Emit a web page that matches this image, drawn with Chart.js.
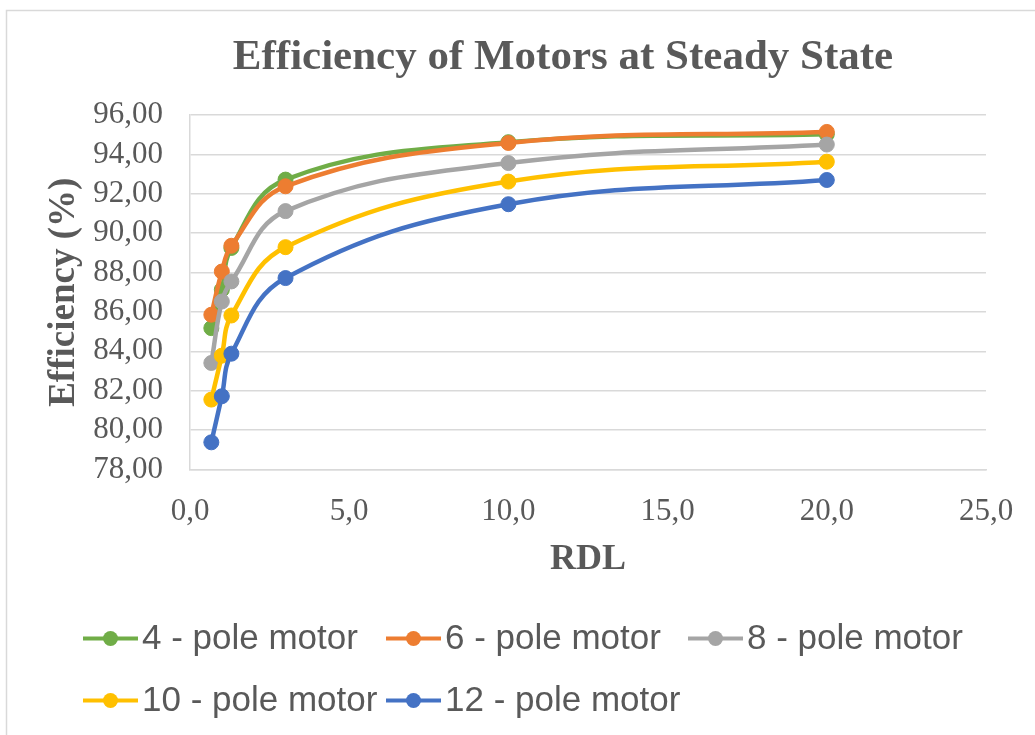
<!DOCTYPE html>
<html>
<head>
<meta charset="utf-8">
<script src="https://cdn.jsdelivr.net/npm/chart.js@4.4.1/dist/chart.umd.min.js"></script>
<style>
  html, body { margin: 0; padding: 0; background: #ffffff; }
  canvas { display: block; }
</style>
</head>
<body>
<canvas id="chart" width="1035" height="735"></canvas>
<script>
// RDL values (x) shared by every motor series
const rdl = [0.67, 1.0, 1.3, 3, 10, 20];

// Steady-state efficiency (%) per motor
const pole4  = [85.18, 87.13, 89.25, 92.72, 94.62, 95.02];
const pole6  = [85.86, 88.05, 89.36, 92.38, 94.58, 95.14];
const pole8  = [83.41, 86.53, 87.55, 91.12, 93.56, 94.50];
const pole10 = [81.55, 83.78, 85.82, 89.29, 92.62, 93.63];
const pole12 = [79.38, 81.72, 83.88, 87.72, 91.47, 92.70];

const seriesNames  = ['4 - pole motor', '6 - pole motor', '8 - pole motor', '10 - pole motor', '12 - pole motor'];
const seriesValues = [pole4, pole6, pole8, pole10, pole12];
const seriesColors = ['#70AD47', '#ED7D31', '#A5A5A5', '#FFC000', '#4472C4'];

// Axis ticks
const xTickValues = [0, 5, 10, 15, 20, 25];
const yTickValues = [78, 80, 82, 84, 86, 88, 90, 92, 94, 96];

const chartTitle = 'Efficiency of Motors at Steady State';

const TEXT = '#595959';
const GRID = '#d9d9d9';
const SERIF = '"Liberation Serif", "Times New Roman", serif';
const SANS = '"Liberation Sans", Arial, sans-serif';

const commaFixed = (v, d) => Number(v).toFixed(d).replace('.', ',');

const datasets = seriesNames.map((name, i) => ({
  label: name,
  data: rdl.map((x, k) => ({ x: x, y: seriesValues[i][k] })),
  borderColor: seriesColors[i],
  backgroundColor: seriesColors[i],
  pointBackgroundColor: seriesColors[i],
  pointBorderColor: seriesColors[i],
  borderWidth: 4.5,
  pointRadius: 7.5,
  pointBorderWidth: 1,
  tension: 0.4,
  fill: false,
  clip: false,
  order: seriesNames.length - i
}));

// White page with the light frame around the chart
const frame = {
  id: 'frame',
  beforeDraw(chart) {
    const ctx = chart.ctx;
    ctx.save();
    ctx.fillStyle = '#ffffff';
    ctx.fillRect(0, 0, chart.width, chart.height);
    ctx.strokeStyle = GRID;
    ctx.lineWidth = 1.5;
    ctx.strokeRect(6.5, 10.5, chart.width + 20, chart.height + 20);
    ctx.restore();
  }
};

// Chart heading, centred over the plot block
const heading = {
  id: 'heading',
  afterDraw(chart) {
    const ctx = chart.ctx;
    ctx.save();
    ctx.font = 'bold 43px ' + SERIF;
    ctx.fillStyle = TEXT;
    ctx.textAlign = 'center';
    ctx.textBaseline = 'middle';
    ctx.fillText(chartTitle, 563, 58);
    ctx.restore();
  }
};

// Legend laid out on a fixed three-column grid
const gridLegend = {
  id: 'gridLegend',
  afterDraw(chart) {
    const ctx = chart.ctx;
    const cols = [83, 386, 688];
    const rows = [638.5, 700.5];
    ctx.save();
    ctx.font = '35px ' + SANS;
    ctx.textBaseline = 'middle';
    ctx.textAlign = 'left';
    chart.data.datasets.forEach((ds, i) => {
      const x = cols[i % 3];
      const y = rows[Math.floor(i / 3)];
      ctx.strokeStyle = ds.borderColor;
      ctx.lineWidth = 4;
      ctx.beginPath();
      ctx.moveTo(x, y);
      ctx.lineTo(x + 55, y);
      ctx.stroke();
      ctx.fillStyle = ds.borderColor;
      ctx.beginPath();
      ctx.arc(x + 27.5, y, 7.5, 0, Math.PI * 2);
      ctx.fill();
      ctx.fillStyle = TEXT;
      ctx.fillText(ds.label, x + 59, y + 1);
    });
    ctx.restore();
  }
};

new Chart(document.getElementById('chart'), {
  type: 'line',
  data: { datasets: datasets },
  plugins: [frame, heading, gridLegend],
  options: {
    responsive: false,
    animation: false,
    devicePixelRatio: 1,
    layout: { padding: { top: 115, left: 0, right: 49, bottom: 135 } },
    plugins: {
      legend: { display: false },
      tooltip: { enabled: false },
      title: { display: false }
    },
    scales: {
      x: {
        type: 'linear',
        min: 0,
        max: 25,
        afterBuildTicks(scale) { scale.ticks = xTickValues.map(v => ({ value: v })); },
        afterFit(scale) { scale.height = 130.5; },
        grid: { display: false },
        border: { display: true, color: GRID, width: 1.5 },
        ticks: {
          color: TEXT,
          font: { family: SERIF, size: 31 },
          padding: 16,
          maxRotation: 0,
          autoSkip: false,
          callback: v => commaFixed(v, 1)
        },
        title: {
          display: true,
          text: 'RDL',
          color: TEXT,
          font: { family: SERIF, size: 36, weight: 'bold', lineHeight: 1.2 },
          padding: { top: 0, bottom: 19 }
        }
      },
      y: {
        type: 'linear',
        min: 78,
        max: 96,
        afterBuildTicks(scale) { scale.ticks = yTickValues.map(v => ({ value: v })); },
        afterFit(scale) { scale.width = 190; },
        grid: { color: GRID, lineWidth: 1.5, drawTicks: false },
        border: { display: true, color: GRID, width: 1.5 },
        ticks: {
          color: TEXT,
          font: { family: SERIF, size: 31 },
          padding: 27,
          autoSkip: false,
          callback: v => commaFixed(v, 2)
        },
        title: {
          display: true,
          text: 'Efficiency (%)',
          color: TEXT,
          font: { family: SERIF, size: 37, weight: 'bold', lineHeight: 1.2 },
          padding: { top: 41.8, bottom: 0 }
        }
      }
    }
  }
});
</script>
</body>
</html>
